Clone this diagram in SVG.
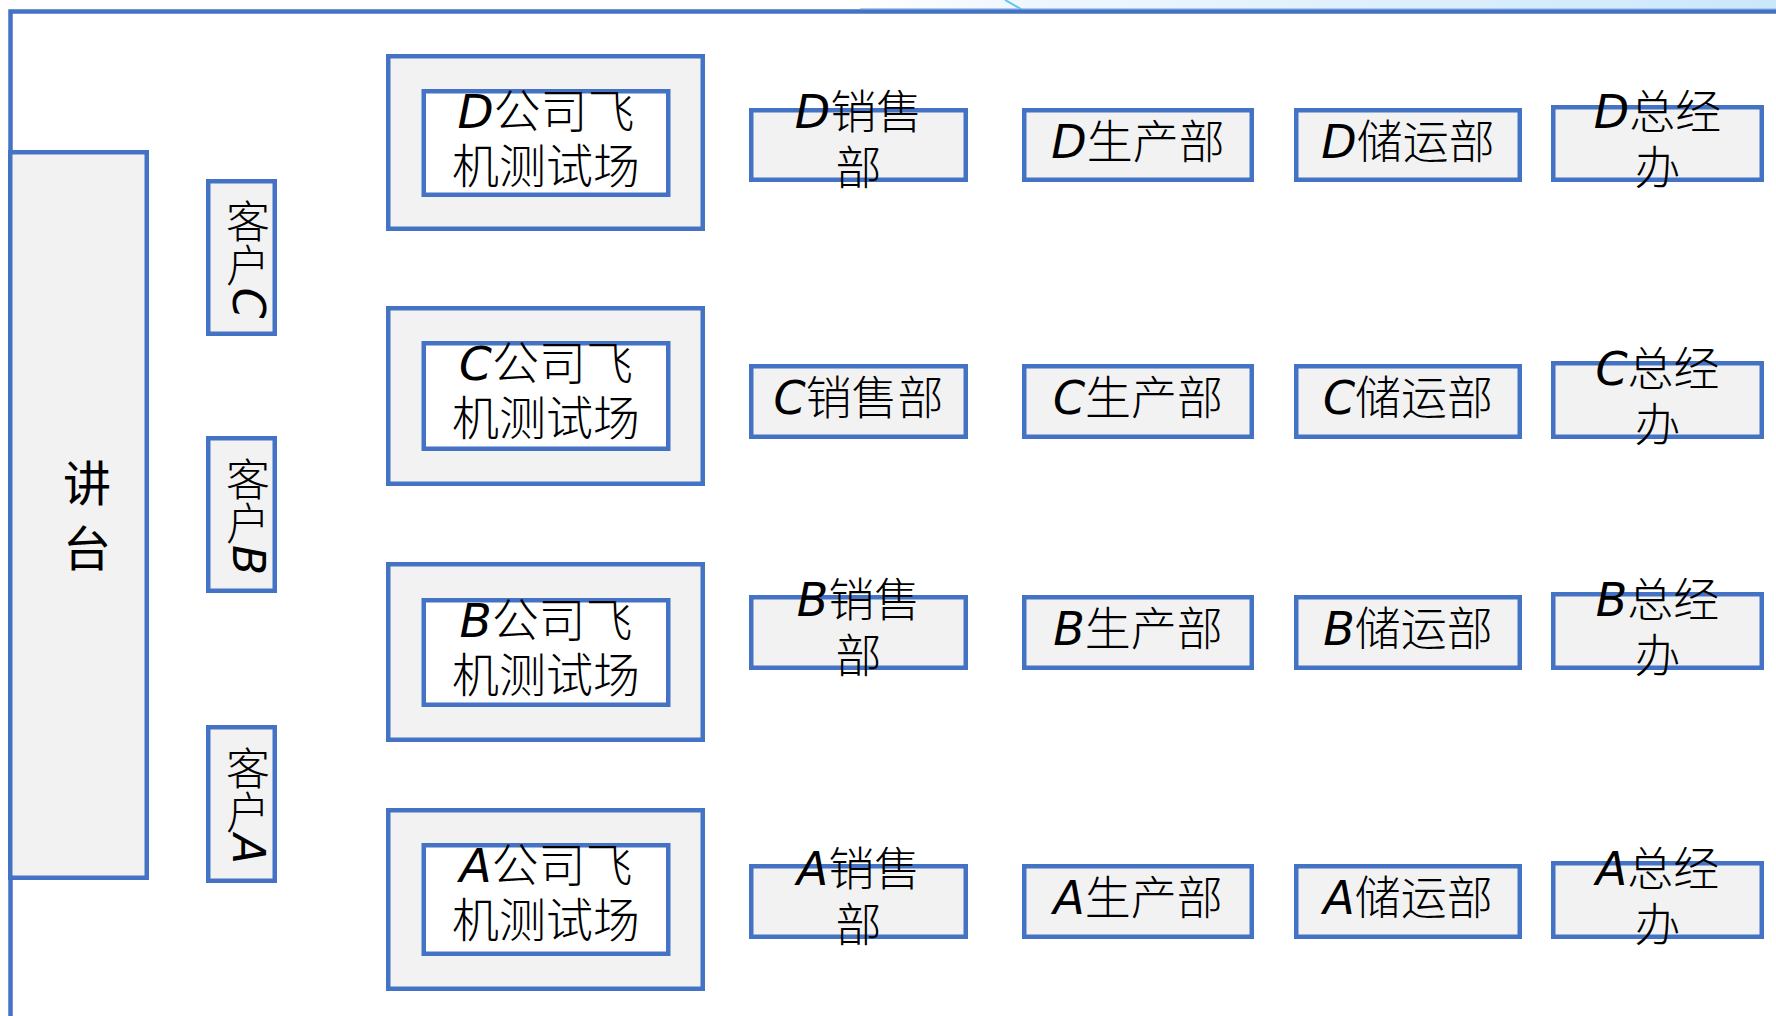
<svg xmlns="http://www.w3.org/2000/svg" width="1776" height="1016" viewBox="0 0 1776 1016">
<defs>
<linearGradient id="topg" x1="0" y1="0" x2="1" y2="0">
<stop offset="0" stop-color="#ffffff"/>
<stop offset="0.15" stop-color="#f1f8fe"/>
<stop offset="1" stop-color="#cbe7fa"/>
</linearGradient>
</defs>
<style>
.box{fill:#F2F2F2;stroke:#4472C4;stroke-width:4.5}
.inner{fill:#FFFFFF;stroke:#4472C4;stroke-width:4.5}
.frame{fill:none;stroke:#4472C4;stroke-width:4.5}
.t{font-family:"Noto Sans CJK SC","Noto Sans CJK JP",sans-serif;font-size:46px;font-weight:300;fill:#000;text-anchor:middle}
.tf{font-size:47px}
.big{font-size:48px;font-weight:400}
.v{font-size:44px;writing-mode:vertical-rl}
.l{font-family:"DejaVu Sans",sans-serif;font-style:italic;font-weight:400}
</style>
<rect x="860" y="0" width="916" height="9" fill="url(#topg)"/>
<line x1="860" y1="8.5" x2="1776" y2="8.5" stroke="#a9cdee" stroke-width="1"/>
<line x1="1005" y1="0" x2="1021" y2="9" stroke="#5cc6f2" stroke-width="2"/>
<path class="frame" d="M10.5 1016 V11.5 H1776"/>
<g id="connectors"></g>
<g id="podium"><rect class="box" x="10.25" y="152.25" width="136.5" height="725.5"/><text class="t big" x="87" y="501">讲<tspan x="87" dy="65">台</tspan></text></g>
<g id="clientC"><rect class="box" x="208.25" y="181.25" width="66.5" height="152.5"/><text class="t v" x="248" y="259">客户<tspan class="l">C</tspan></text></g>
<g id="clientB"><rect class="box" x="208.25" y="438.25" width="66.5" height="152.5"/><text class="t v" x="248" y="516">客户<tspan class="l">B</tspan></text></g>
<g id="clientA"><rect class="box" x="208.25" y="727.25" width="66.5" height="153.5"/><text class="t v" x="248" y="805">客户<tspan class="l">A</tspan></text></g>
<g id="testD"><rect class="box" x="388.25" y="56.25" width="314.5" height="172.5"/><rect class="inner" x="423.75" y="91.25" width="244.5" height="103.5"/><text class="t tf" x="546" y="128"><tspan class="l">D</tspan>公司飞<tspan x="546" dy="55">机测试场</tspan></text></g>
<g id="testC"><rect class="box" x="388.25" y="308.25" width="314.5" height="175.5"/><rect class="inner" x="423.75" y="343.25" width="244.5" height="105.5"/><text class="t tf" x="546" y="380"><tspan class="l">C</tspan>公司飞<tspan x="546" dy="55">机测试场</tspan></text></g>
<g id="testB"><rect class="box" x="388.25" y="564.25" width="314.5" height="175.5"/><rect class="inner" x="423.75" y="600.25" width="244.5" height="104.5"/><text class="t tf" x="546" y="637"><tspan class="l">B</tspan>公司飞<tspan x="546" dy="55">机测试场</tspan></text></g>
<g id="testA"><rect class="box" x="388.25" y="810.25" width="314.5" height="178.5"/><rect class="inner" x="423.75" y="845.25" width="244.5" height="108.5"/><text class="t tf" x="546" y="882"><tspan class="l">A</tspan>公司飞<tspan x="546" dy="55">机测试场</tspan></text></g>
<g id="salesD"><rect class="box" x="751.25" y="110.25" width="214.5" height="69.5"/><text class="t" x="858.5" y="127.5"><tspan class="l">D</tspan>销售<tspan x="858.5" dy="56">部</tspan></text></g>
<g id="prodD"><rect class="box" x="1024.25" y="110.25" width="227.5" height="69.5"/><text class="t" x="1138" y="157.5"><tspan class="l">D</tspan>生产部</text></g>
<g id="storeD"><rect class="box" x="1296.25" y="110.25" width="223.5" height="69.5"/><text class="t" x="1408" y="157.5"><tspan class="l">D</tspan>储运部</text></g>
<g id="gmD"><rect class="box" x="1553.25" y="107.25" width="208.5" height="72.5"/><text class="t" x="1657.5" y="127.5"><tspan class="l">D</tspan>总经<tspan x="1657.5" dy="56">办</tspan></text></g>
<g id="salesC"><rect class="box" x="751.25" y="366.25" width="214.5" height="70.5"/><text class="t" x="858.5" y="414"><tspan class="l">C</tspan>销售部</text></g>
<g id="prodC"><rect class="box" x="1024.25" y="366.25" width="227.5" height="70.5"/><text class="t" x="1138" y="414"><tspan class="l">C</tspan>生产部</text></g>
<g id="storeC"><rect class="box" x="1296.25" y="366.25" width="223.5" height="70.5"/><text class="t" x="1408" y="414"><tspan class="l">C</tspan>储运部</text></g>
<g id="gmC"><rect class="box" x="1553.25" y="363.25" width="208.5" height="73.5"/><text class="t" x="1657.5" y="384.5"><tspan class="l">C</tspan>总经<tspan x="1657.5" dy="56">办</tspan></text></g>
<g id="salesB"><rect class="box" x="751.25" y="597.25" width="214.5" height="70.5"/><text class="t" x="858.5" y="615.5"><tspan class="l">B</tspan>销售<tspan x="858.5" dy="56">部</tspan></text></g>
<g id="prodB"><rect class="box" x="1024.25" y="597.25" width="227.5" height="70.5"/><text class="t" x="1138" y="645"><tspan class="l">B</tspan>生产部</text></g>
<g id="storeB"><rect class="box" x="1296.25" y="597.25" width="223.5" height="70.5"/><text class="t" x="1408" y="645"><tspan class="l">B</tspan>储运部</text></g>
<g id="gmB"><rect class="box" x="1553.25" y="594.25" width="208.5" height="73.5"/><text class="t" x="1657.5" y="615.5"><tspan class="l">B</tspan>总经<tspan x="1657.5" dy="56">办</tspan></text></g>
<g id="salesA"><rect class="box" x="751.25" y="866.25" width="214.5" height="70.5"/><text class="t" x="858.5" y="884.5"><tspan class="l">A</tspan>销售<tspan x="858.5" dy="56">部</tspan></text></g>
<g id="prodA"><rect class="box" x="1024.25" y="866.25" width="227.5" height="70.5"/><text class="t" x="1138" y="914"><tspan class="l">A</tspan>生产部</text></g>
<g id="storeA"><rect class="box" x="1296.25" y="866.25" width="223.5" height="70.5"/><text class="t" x="1408" y="914"><tspan class="l">A</tspan>储运部</text></g>
<g id="gmA"><rect class="box" x="1553.25" y="863.25" width="208.5" height="73.5"/><text class="t" x="1657.5" y="884.5"><tspan class="l">A</tspan>总经<tspan x="1657.5" dy="56">办</tspan></text></g>
</svg>
